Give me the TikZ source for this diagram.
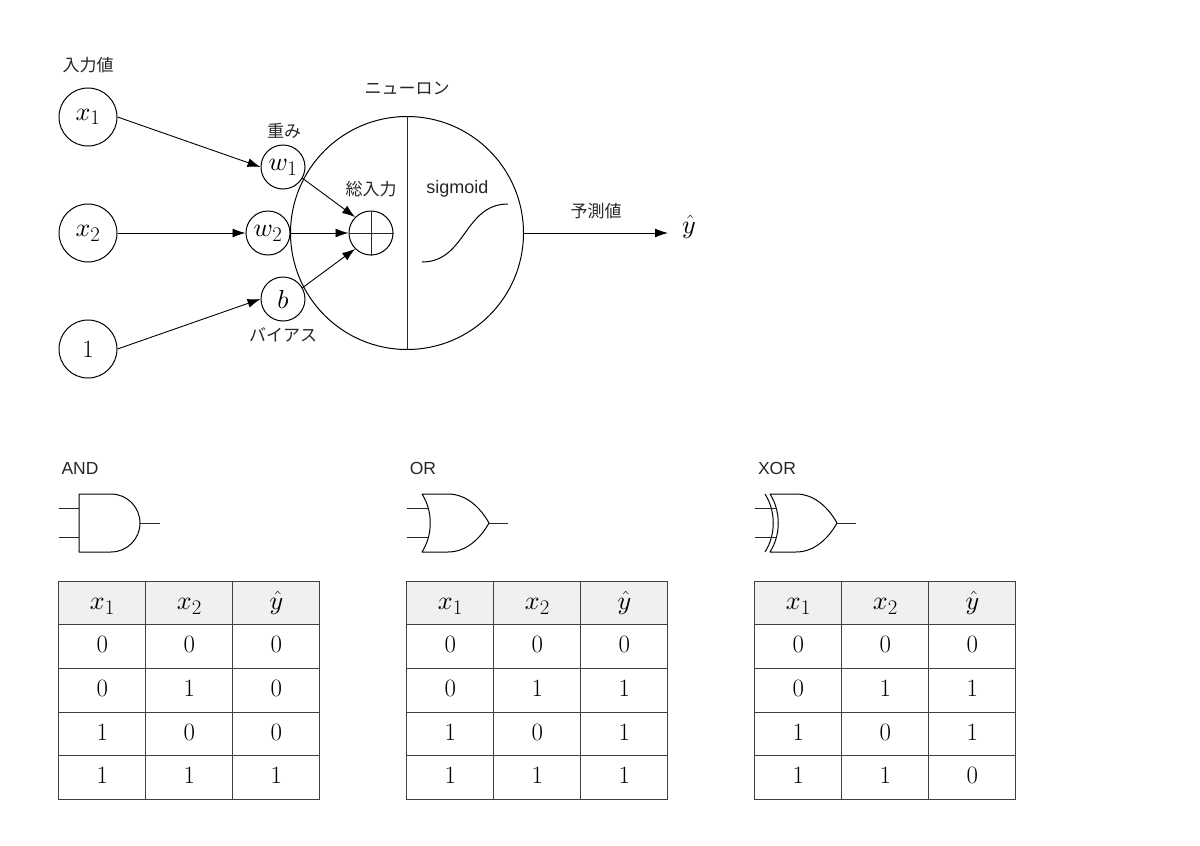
\documentclass[tikz,border=0pt]{standalone}
\usepackage{fontspec}
\usepackage{tikz}
\usetikzlibrary{arrows.meta}
\newfontfamily\jafont{Noto Sans CJK JP}
\newfontfamily\latinfont{Liberation Sans}

% heavier math letters and digits at large size
\DeclareFontFamily{OML}{cmmx}{\skewchar\font=127}
\DeclareFontShape{OML}{cmmx}{m}{it}{<-> cmmi10}{}
\DeclareFontFamily{OT1}{cmrx}{\hyphenchar\font=-1}
\DeclareFontShape{OT1}{cmrx}{m}{n}{<-> cmr10}{}
\DeclareSymbolFont{letters}{OML}{cmmx}{m}{it}
\DeclareSymbolFont{operators}{OT1}{cmrx}{m}{n}
\DeclareMathSizes{26}{26}{20}{14}

\tikzset{
    unit/.style={draw=black, circle, line width=1pt, inner sep=0pt, font=\fontsize{26}{30}\selectfont},
    inputunit/.style={unit, minimum size=58pt},
    weightunit/.style={unit, minimum size=44pt},
    jalabel/.style={font=\fontsize{17}{20}\selectfont\jafont, text=black!85},
    enlabel/.style={font=\fontsize{17.5}{20}\selectfont\latinfont, text=black!85},
    conn/.style={-{Latex[length=13pt,width=9pt]}, line width=.9pt},
    thinline/.style={line width=.9pt, black!85},
    gateline/.style={line width=1pt, line join=round},
    cell/.style={draw=black!75, line width=1pt, minimum width=87pt, minimum height=43.6pt, inner sep=0pt, text height=17pt, text depth=4.5pt, font=\fontsize{26}{30}\selectfont},
    headcell/.style={cell, fill=black!6}
}

% one truth table: name, left edge, outputs of the four rows
\newcommand{\truthtable}[3]{
    \node[headcell] (#1h1) at (#2+43.5,603) {$x_1$};
    \node[headcell] (#1h2) at (#2+130.5,603) {$x_2$};
    \node[headcell] (#1h3) at (#2+217.5,603) {$\hat{y}$};
    \foreach \row/\a/\b/\c in {#3} {
        \node[cell] (#1a\row) at (#2+43.5,603+43.6*\row) {$\a$};
        \node[cell] (#1b\row) at (#2+130.5,603+43.6*\row) {$\b$};
        \node[cell] (#1c\row) at (#2+217.5,603+43.6*\row) {$\c$};
    }
}

\begin{document}
\begin{tikzpicture}[x=1pt, y=-1pt]
    \useasboundingbox (0,0) rectangle (1200,846);

    \node[unit, minimum size=233pt] (neuron) at (407,233) {};
    \draw[thinline] (neuron.north) -- (neuron.south);

    \node[inputunit] (x1) at (88,117) {$x_1$};
    \node[inputunit] (x2) at (88,233) {$x_2$};
    \node[inputunit] (one) at (88,349) {$1$};
    \node[weightunit] (w1) at (283,167) {$w_1$};
    \node[weightunit] (w2) at (268,233) {$w_2$};
    \node[weightunit] (b) at (283,299) {$b$};
    \node[weightunit] (sum) at (371,233) {};
    \draw[thinline] (sum.north) -- (sum.south);
    \draw[thinline] (sum.west) -- (sum.east);

    \draw[conn] (x1.east) -- (w1.west);
    \draw[conn] (x2.east) -- (w2.west);
    \draw[conn] (one.east) -- (b.west);
    \draw[conn] (w1.-30) -- (sum.135);
    \draw[conn] (w2.east) -- (sum.west);
    \draw[conn] (b.30) -- (sum.225);

    \coordinate (outend) at (668,233);
    \draw[conn] (neuron.east) -- (outend);
    \node[font=\fontsize{26}{30}\selectfont] (yhat) at (689,227) {$\hat{y}$};

    \draw[line width=1pt] (422,262) .. controls (466,262) and (464,204) .. (508,204);

    \node[jalabel] (inputlabel) at (88,65) {入力値};
    \node[jalabel] (neuronlabel) at (407,88) {ニューロン};
    \node[jalabel] (weightlabel) at (284,131) {重み};
    \node[jalabel] (sumlabel) at (371,189) {総入力};
    \node[jalabel] (outlabel) at (596,211) {予測値};
    \node[jalabel] (biaslabel) at (283,335) {バイアス};
    \node[enlabel, font=\fontsize{18}{20}\selectfont\latinfont] (sigmoidlabel) at (457.5,189) {sigmoid};

    \node[enlabel] (andlabel) at (80,468) {AND};
    \node[enlabel] (orlabel) at (423,468) {OR};
    \node[enlabel] (xorlabel) at (777,468) {XOR};

    % AND
    \draw[gateline] (79,494) -- (111,494) arc[start angle=90, end angle=-90, radius=29pt] -- (79,552) -- cycle;
    \draw[thinline] (59,508) -- (79,508);
    \draw[thinline] (59,537) -- (79,537);
    \draw[thinline] (140,523) -- (160,523);

    % OR
    \draw[gateline] (422,494) -- (448,494) .. controls (466,494) and (480,507) .. (489,523)
        .. controls (480,539) and (466,552) .. (448,552) -- (422,552)
        .. controls (433,535) and (433,511) .. (422,494) -- cycle;
    \draw[thinline] (407,508) -- (429,508);
    \draw[thinline] (407,537) -- (429,537);
    \draw[thinline] (489,523) -- (508,523);

    % XOR
    \draw[gateline] (770,494) -- (796,494) .. controls (814,494) and (828,507) .. (837,523)
        .. controls (828,539) and (814,552) .. (796,552) -- (770,552)
        .. controls (781,535) and (781,511) .. (770,494) -- cycle;
    \draw[gateline] (765,494) .. controls (776,511) and (776,535) .. (765,552);
    \draw[thinline] (755,508) -- (777,508);
    \draw[thinline] (755,537) -- (777,537);
    \draw[thinline] (837,523) -- (856,523);

    \truthtable{and}{58.9}{1/0/0/0, 2/0/1/0, 3/1/0/0, 4/1/1/1}
    \truthtable{or}{406.9}{1/0/0/0, 2/0/1/1, 3/1/0/1, 4/1/1/1}
    \truthtable{xor}{754.9}{1/0/0/0, 2/0/1/1, 3/1/0/1, 4/1/1/0}
\end{tikzpicture}
\end{document}
